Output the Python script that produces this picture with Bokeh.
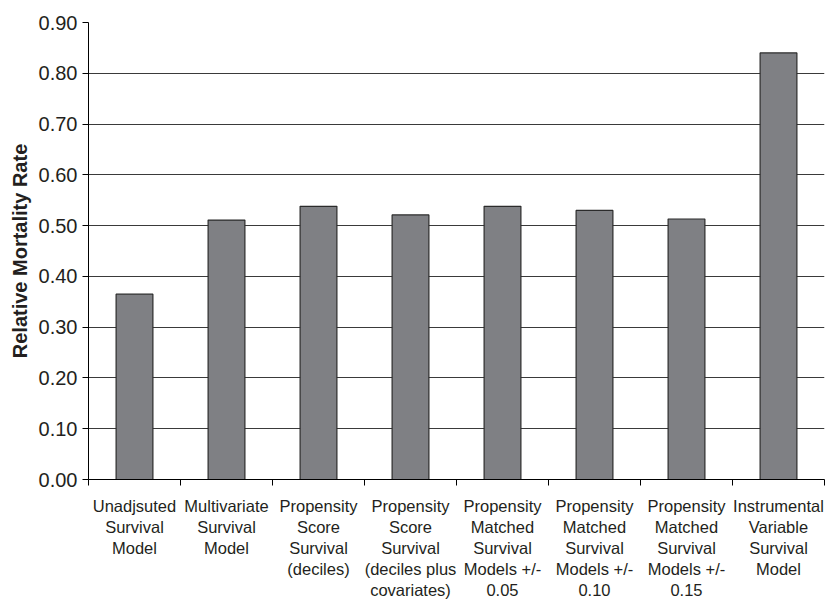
import numpy as np
from bokeh.plotting import figure
from bokeh.models import FixedTicker, NumeralTickFormatter, Range1d, ColumnDataSource
from bokeh.embed import file_html
from bokeh.resources import INLINE

categories = [
    "Unadjsuted\nSurvival\nModel",
    "Multivariate\nSurvival\nModel",
    "Propensity\nScore\nSurvival\n(deciles)",
    "Propensity\nScore\nSurvival\n(deciles plus\ncovariates)",
    "Propensity\nMatched\nSurvival\nModels +/-\n0.05",
    "Propensity\nMatched\nSurvival\nModels +/-\n0.10",
    "Propensity\nMatched\nSurvival\nModels +/-\n0.15",
    "Instrumental\nVariable\nSurvival\nModel",
]
values = [0.365, 0.511, 0.538, 0.521, 0.538, 0.530, 0.513, 0.840]
y_ticks = [0.0, 0.1, 0.2, 0.3, 0.4, 0.5, 0.6, 0.7, 0.8, 0.9]

n = len(categories)
centers = [i + 0.5 for i in range(n)]
bounds = list(range(n + 1))

FONT = "Liberation Sans"
TXT = "#231f20"

p = figure(width=831, height=601, output_backend="svg", toolbar_location=None,
           x_range=Range1d(0, n), y_range=Range1d(0, 0.9))
p.min_border_left = 88
p.min_border_right = 7
p.min_border_top = 22
p.min_border_bottom = 60
p.outline_line_color = None
p.background_fill_color = "white"
p.border_fill_color = "white"

src = ColumnDataSource(dict(x=centers, top=values))
p.vbar(x="x", top="top", bottom=0, width=0.4, source=src,
       fill_color="#7f8084", line_color="#2b2b2b", line_width=1.2)

# x axis
xa = p.xaxis[0]
xa.ticker = FixedTicker(ticks=centers, minor_ticks=bounds)
xa.major_label_overrides = {c: lab for c, lab in zip(centers, categories)}
xa.major_tick_out = 0
xa.major_tick_in = 0
xa.minor_tick_out = 6
xa.minor_tick_in = 0
xa.minor_tick_line_color = "black"
xa.axis_line_color = "black"
xa.major_label_text_font = FONT
xa.major_label_text_font_size = "16.5px"
xa.major_label_text_color = TXT
xa.major_label_text_line_height = 1.17
xa.major_label_standoff = 11
xa.major_label_orientation = "horizontal"

# y axis
ya = p.yaxis[0]
ya.ticker = FixedTicker(ticks=y_ticks)
ya.formatter = NumeralTickFormatter(format="0.00")
ya.major_tick_out = 6
ya.major_tick_in = 0
ya.minor_tick_line_color = None
ya.axis_line_color = "black"
ya.major_label_text_font = FONT
ya.major_label_text_font_size = "20px"
ya.major_label_text_color = TXT
ya.major_label_standoff = 5
ya.axis_label = "Relative Mortality Rate"
ya.axis_label_text_font = FONT
ya.axis_label_text_font_size = "20px"
ya.axis_label_text_font_style = "bold"
ya.axis_label_text_color = TXT
ya.axis_label_standoff = 5

p.xgrid.visible = False
p.ygrid.ticker = FixedTicker(ticks=y_ticks)
p.ygrid.grid_line_color = "#3a3a3a"
p.ygrid.grid_line_width = 1

open("out.html", "w").write(file_html(p, INLINE))
